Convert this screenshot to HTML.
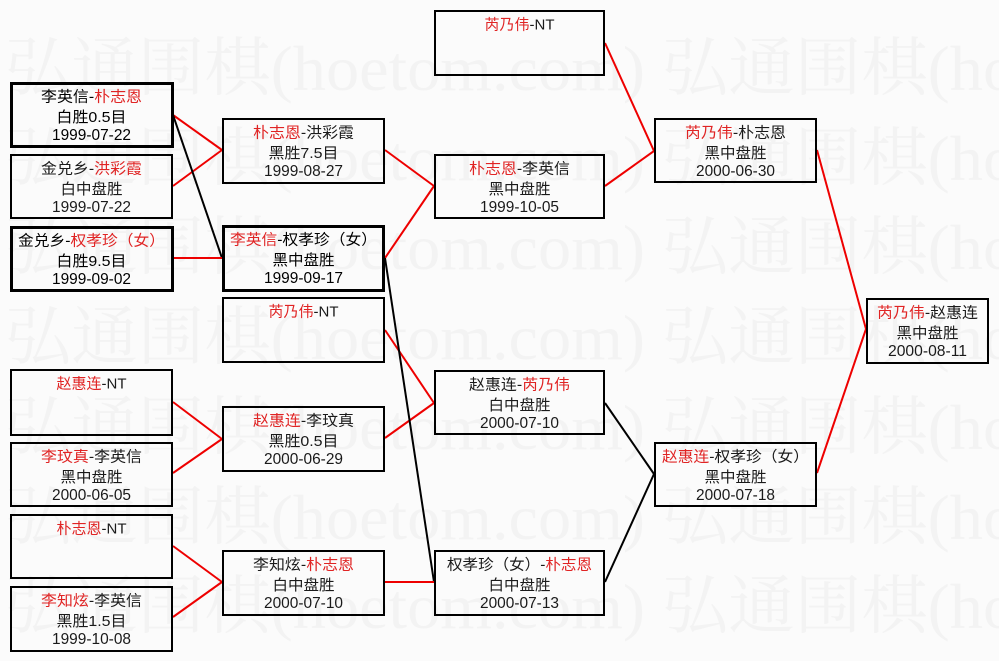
<!DOCTYPE html>
<html><head><meta charset="utf-8">
<style>
html,body{margin:0;padding:0;background:#fbfbfb;}
svg{display:block;}
.t{font-family:"Liberation Sans","Noto Sans CJK SC",sans-serif;font-size:15px;fill:#1a1a1a;}
.d{font-family:"Liberation Sans","Noto Sans CJK SC",sans-serif;font-size:16px;fill:#1a1a1a;}
.k{fill:#000;}
.r{fill:#e02424;}
.wm{font-family:"Liberation Serif","Noto Serif CJK SC",serif;font-size:64px;fill:#f3f3f3;}
</style></head>
<body>
<svg width="999" height="661" viewBox="0 0 999 661" xmlns="http://www.w3.org/2000/svg">
<rect x="0" y="0" width="999" height="661" fill="#fbfbfb"/>
<!-- watermark -->
<g class="wm">
<text x="5" y="90" textLength="640" lengthAdjust="spacingAndGlyphs">弘通围棋(hoetom.com)</text>
<text x="662" y="90" textLength="640" lengthAdjust="spacingAndGlyphs">弘通围棋(hoetom.com)</text>
<text x="5" y="180" textLength="640" lengthAdjust="spacingAndGlyphs">弘通围棋(hoetom.com)</text>
<text x="662" y="180" textLength="640" lengthAdjust="spacingAndGlyphs">弘通围棋(hoetom.com)</text>
<text x="5" y="269" textLength="640" lengthAdjust="spacingAndGlyphs">弘通围棋(hoetom.com)</text>
<text x="662" y="269" textLength="640" lengthAdjust="spacingAndGlyphs">弘通围棋(hoetom.com)</text>
<text x="5" y="359" textLength="640" lengthAdjust="spacingAndGlyphs">弘通围棋(hoetom.com)</text>
<text x="662" y="359" textLength="640" lengthAdjust="spacingAndGlyphs">弘通围棋(hoetom.com)</text>
<text x="5" y="449" textLength="640" lengthAdjust="spacingAndGlyphs">弘通围棋(hoetom.com)</text>
<text x="662" y="449" textLength="640" lengthAdjust="spacingAndGlyphs">弘通围棋(hoetom.com)</text>
<text x="5" y="539" textLength="640" lengthAdjust="spacingAndGlyphs">弘通围棋(hoetom.com)</text>
<text x="662" y="539" textLength="640" lengthAdjust="spacingAndGlyphs">弘通围棋(hoetom.com)</text>
<text x="5" y="628" textLength="640" lengthAdjust="spacingAndGlyphs">弘通围棋(hoetom.com)</text>
<text x="662" y="628" textLength="640" lengthAdjust="spacingAndGlyphs">弘通围棋(hoetom.com)</text>
</g>

<!-- connectors -->
<g stroke-width="2" fill="none">
<line x1="173" y1="115" x2="222" y2="150" stroke="#ee0000"/>
<line x1="173" y1="186" x2="222" y2="150" stroke="#ee0000"/>
<line x1="173" y1="115" x2="222" y2="258" stroke="#000"/>
<line x1="173" y1="258" x2="222" y2="258" stroke="#ee0000"/>
<line x1="173" y1="402" x2="222" y2="439" stroke="#ee0000"/>
<line x1="173" y1="473" x2="222" y2="439" stroke="#ee0000"/>
<line x1="173" y1="546" x2="222" y2="582" stroke="#ee0000"/>
<line x1="173" y1="617" x2="222" y2="582" stroke="#ee0000"/>

<line x1="385" y1="150" x2="434" y2="186" stroke="#ee0000"/>
<line x1="385" y1="258" x2="434" y2="186" stroke="#ee0000"/>
<line x1="385" y1="330" x2="434" y2="403" stroke="#ee0000"/>
<line x1="385" y1="438" x2="434" y2="403" stroke="#ee0000"/>
<line x1="385" y1="258" x2="434" y2="582" stroke="#000"/>
<line x1="385" y1="582" x2="434" y2="582" stroke="#ee0000"/>

<line x1="605" y1="43" x2="654" y2="151" stroke="#ee0000"/>
<line x1="605" y1="186" x2="654" y2="151" stroke="#ee0000"/>
<line x1="605" y1="403" x2="654" y2="474" stroke="#000"/>
<line x1="605" y1="582" x2="654" y2="474" stroke="#000"/>

<line x1="817" y1="150" x2="866" y2="329" stroke="#ee0000"/>
<line x1="817" y1="473" x2="866" y2="329" stroke="#ee0000"/>
</g>

<!-- boxes -->
<g fill="none" stroke="#000">
<rect x="11.5" y="83.5" width="161" height="63" stroke-width="3"/>
<rect x="11" y="155" width="161" height="63" stroke-width="2"/>
<rect x="11.5" y="227.5" width="161" height="63" stroke-width="3"/>
<rect x="11" y="370" width="161" height="65" stroke-width="2"/>
<rect x="11" y="443" width="161" height="63" stroke-width="2"/>
<rect x="11" y="515" width="161" height="63" stroke-width="2"/>
<rect x="11" y="587" width="161" height="64" stroke-width="2"/>

<rect x="223" y="119" width="161" height="64" stroke-width="2"/>
<rect x="223.5" y="226.5" width="160" height="64" stroke-width="3"/>
<rect x="223" y="298" width="161" height="64" stroke-width="2"/>
<rect x="223" y="407" width="161" height="64" stroke-width="2"/>
<rect x="223" y="551" width="161" height="64" stroke-width="2"/>

<rect x="435" y="11" width="169" height="64" stroke-width="2"/>
<rect x="435" y="155" width="169" height="63" stroke-width="2"/>
<rect x="435" y="371" width="169" height="63" stroke-width="2"/>
<rect x="435" y="551" width="169" height="64" stroke-width="2"/>

<rect x="655" y="119" width="161" height="63" stroke-width="2"/>
<rect x="655" y="443" width="161" height="63" stroke-width="2"/>

<rect x="867" y="299" width="121" height="64" stroke-width="2"/>
</g>

<!-- texts -->
<g text-anchor="middle">
<!-- col1 -->
<text class="t k" x="91.5" y="101.5" textLength="101" lengthAdjust="spacingAndGlyphs">李英信-<tspan class="r">朴志恩</tspan></text>
<text class="t k" x="91.5" y="122" textLength="70" lengthAdjust="spacingAndGlyphs">白胜0.5目</text>
<text class="d k" x="91.5" y="140" textLength="79" lengthAdjust="spacingAndGlyphs">1999-07-22</text>

<text class="t" x="91.5" y="173.5" textLength="101" lengthAdjust="spacingAndGlyphs">金兑乡-<tspan class="r">洪彩霞</tspan></text>
<text class="t" x="91.5" y="194" textLength="62" lengthAdjust="spacingAndGlyphs">白中盘胜</text>
<text class="d" x="91.5" y="212" textLength="79" lengthAdjust="spacingAndGlyphs">1999-07-22</text>

<text class="t k" x="91.5" y="245.5" textLength="147" lengthAdjust="spacingAndGlyphs">金兑乡-<tspan class="r">权孝珍（女）</tspan></text>
<text class="t k" x="91.5" y="266" textLength="70" lengthAdjust="spacingAndGlyphs">白胜9.5目</text>
<text class="d k" x="91.5" y="284" textLength="79" lengthAdjust="spacingAndGlyphs">1999-09-02</text>

<text class="t" x="91.5" y="388.5" textLength="70" lengthAdjust="spacingAndGlyphs"><tspan class="r">赵惠连</tspan>-NT</text>

<text class="t" x="91.5" y="461.5" textLength="101" lengthAdjust="spacingAndGlyphs"><tspan class="r">李玟真</tspan>-李英信</text>
<text class="t" x="91.5" y="482" textLength="62" lengthAdjust="spacingAndGlyphs">黑中盘胜</text>
<text class="d" x="91.5" y="500" textLength="79" lengthAdjust="spacingAndGlyphs">2000-06-05</text>

<text class="t" x="91.5" y="533.5" textLength="70" lengthAdjust="spacingAndGlyphs"><tspan class="r">朴志恩</tspan>-NT</text>

<text class="t" x="91.5" y="605.5" textLength="101" lengthAdjust="spacingAndGlyphs"><tspan class="r">李知炫</tspan>-李英信</text>
<text class="t" x="91.5" y="626" textLength="70" lengthAdjust="spacingAndGlyphs">黑胜1.5目</text>
<text class="d" x="91.5" y="644" textLength="79" lengthAdjust="spacingAndGlyphs">1999-10-08</text>

<!-- col2 -->
<text class="t" x="303.5" y="137.5" textLength="101" lengthAdjust="spacingAndGlyphs"><tspan class="r">朴志恩</tspan>-洪彩霞</text>
<text class="t" x="303.5" y="158" textLength="70" lengthAdjust="spacingAndGlyphs">黑胜7.5目</text>
<text class="d" x="303.5" y="176" textLength="79" lengthAdjust="spacingAndGlyphs">1999-08-27</text>

<text class="t k" x="303.5" y="244.5" textLength="147" lengthAdjust="spacingAndGlyphs"><tspan class="r">李英信</tspan>-权孝珍（女）</text>
<text class="t k" x="303.5" y="265" textLength="62" lengthAdjust="spacingAndGlyphs">黑中盘胜</text>
<text class="d k" x="303.5" y="283" textLength="79" lengthAdjust="spacingAndGlyphs">1999-09-17</text>

<text class="t" x="303.5" y="316.5" textLength="70" lengthAdjust="spacingAndGlyphs"><tspan class="r">芮乃伟</tspan>-NT</text>

<text class="t" x="303.5" y="425.5" textLength="101" lengthAdjust="spacingAndGlyphs"><tspan class="r">赵惠连</tspan>-李玟真</text>
<text class="t" x="303.5" y="446" textLength="70" lengthAdjust="spacingAndGlyphs">黑胜0.5目</text>
<text class="d" x="303.5" y="464" textLength="79" lengthAdjust="spacingAndGlyphs">2000-06-29</text>

<text class="t" x="303.5" y="569.5" textLength="101" lengthAdjust="spacingAndGlyphs">李知炫-<tspan class="r">朴志恩</tspan></text>
<text class="t" x="303.5" y="590" textLength="62" lengthAdjust="spacingAndGlyphs">白中盘胜</text>
<text class="d" x="303.5" y="608" textLength="79" lengthAdjust="spacingAndGlyphs">2000-07-10</text>

<!-- col3 -->
<text class="t" x="519.5" y="29.5" textLength="70" lengthAdjust="spacingAndGlyphs"><tspan class="r">芮乃伟</tspan>-NT</text>

<text class="t" x="519.5" y="173.5" textLength="101" lengthAdjust="spacingAndGlyphs"><tspan class="r">朴志恩</tspan>-李英信</text>
<text class="t" x="519.5" y="194" textLength="62" lengthAdjust="spacingAndGlyphs">黑中盘胜</text>
<text class="d" x="519.5" y="212" textLength="79" lengthAdjust="spacingAndGlyphs">1999-10-05</text>

<text class="t" x="519.5" y="389.5" textLength="101" lengthAdjust="spacingAndGlyphs">赵惠连-<tspan class="r">芮乃伟</tspan></text>
<text class="t" x="519.5" y="410" textLength="62" lengthAdjust="spacingAndGlyphs">白中盘胜</text>
<text class="d" x="519.5" y="428" textLength="79" lengthAdjust="spacingAndGlyphs">2000-07-10</text>

<text class="t" x="519.5" y="569.5" textLength="145" lengthAdjust="spacingAndGlyphs">权孝珍（女）-<tspan class="r">朴志恩</tspan></text>
<text class="t" x="519.5" y="590" textLength="62" lengthAdjust="spacingAndGlyphs">白中盘胜</text>
<text class="d" x="519.5" y="608" textLength="79" lengthAdjust="spacingAndGlyphs">2000-07-13</text>

<!-- col4 -->
<text class="t" x="735.5" y="137.5" textLength="101" lengthAdjust="spacingAndGlyphs"><tspan class="r">芮乃伟</tspan>-朴志恩</text>
<text class="t" x="735.5" y="158" textLength="62" lengthAdjust="spacingAndGlyphs">黑中盘胜</text>
<text class="d" x="735.5" y="176" textLength="79" lengthAdjust="spacingAndGlyphs">2000-06-30</text>

<text class="t" x="735.5" y="461.5" textLength="147" lengthAdjust="spacingAndGlyphs"><tspan class="r">赵惠连</tspan>-权孝珍（女）</text>
<text class="t" x="735.5" y="482" textLength="62" lengthAdjust="spacingAndGlyphs">黑中盘胜</text>
<text class="d" x="735.5" y="500" textLength="79" lengthAdjust="spacingAndGlyphs">2000-07-18</text>

<!-- col5 -->
<text class="t" x="927.5" y="317.5" textLength="101" lengthAdjust="spacingAndGlyphs"><tspan class="r">芮乃伟</tspan>-赵惠连</text>
<text class="t" x="927.5" y="338" textLength="62" lengthAdjust="spacingAndGlyphs">黑中盘胜</text>
<text class="d" x="927.5" y="356" textLength="79" lengthAdjust="spacingAndGlyphs">2000-08-11</text>
</g>
</svg>
</body></html>
